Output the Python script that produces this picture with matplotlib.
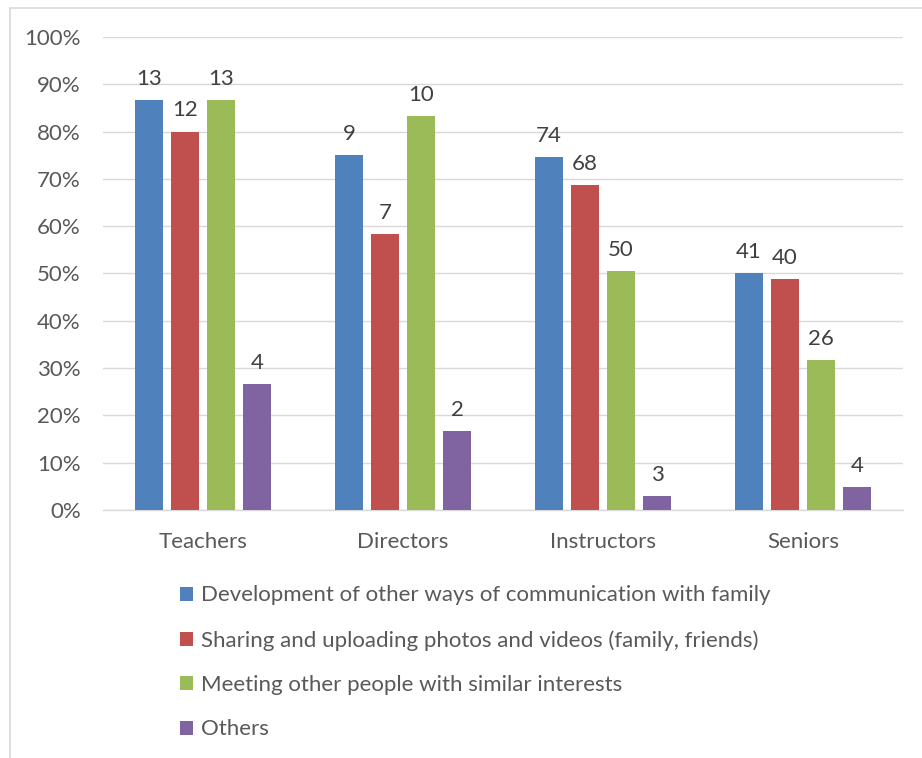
import matplotlib.pyplot as plt
import numpy as np
from matplotlib.patches import Rectangle

plt.rcParams['font.family'] = ['Lato', 'DejaVu Sans']

groups = ['Teachers', 'Directors', 'Instructors', 'Seniors']
series = ['Development of other ways of communication with family',
          'Sharing and uploading photos and videos (family, friends)',
          'Meeting other people with similar interests',
          'Others']
colors = ['#4f81bd', '#c0504d', '#9bbb59', '#8064a2']

# share of respondents (%) per group, one list per series
dev_pct = [86.7, 75.0, 74.7, 50.0]
share_pct = [80.0, 58.3, 68.7, 48.8]
meet_pct = [86.7, 83.3, 50.5, 31.7]
other_pct = [26.7, 16.7, 3.0, 4.9]

# counts shown as data labels
dev_n = [13, 9, 74, 41]
share_n = [12, 7, 68, 40]
meet_n = [13, 10, 50, 26]
other_n = [4, 2, 3, 4]

pcts = [dev_pct, share_pct, meet_pct, other_pct]
counts = [dev_n, share_n, meet_n, other_n]

fig = plt.figure(figsize=(9.22, 7.58), dpi=100, facecolor='white')
ax = fig.add_axes([0.1117, 0.3272, 0.8677, 0.624])

x = np.arange(len(groups))
bar_w = 0.14
step = 0.18
handles = []
for i in range(4):
    pos = x + (i - 1.5) * step
    b = ax.bar(pos, pcts[i], bar_w, color=colors[i], label=series[i], zorder=3)
    handles.append(b)
    for xp, v, n in zip(pos, pcts[i], counts[i]):
        ax.annotate(str(n), (xp, v), xytext=(0, 8), textcoords='offset points',
                    ha='center', va='bottom', fontsize=16, color='#404040')

ax.set_xlim(-0.5, 3.5)
ax.set_ylim(0, 100)
ax.set_yticks(range(0, 101, 10))
ax.set_yticklabels([f'{v}%' for v in range(0, 101, 10)])
ax.set_xticks(x)
ax.set_xticklabels(groups)
ax.tick_params(axis='both', length=0, labelsize=16, labelcolor='#595959')
ax.tick_params(axis='y', pad=16)
ax.tick_params(axis='x', pad=16)
ax.grid(axis='y', color='#d9d9d9', lw=1.0, zorder=0)
for s in ['top', 'right', 'left']:
    ax.spines[s].set_visible(False)
ax.spines['bottom'].set_color('#d9d9d9')
ax.spines['bottom'].set_linewidth(1.0)

leg = fig.legend(handles=handles, labels=series, loc='upper left',
                 bbox_to_anchor=(0.1735, 0.254), frameon=False, fontsize=16,
                 handlelength=0.6, handleheight=0.6, handletextpad=0.35,
                 labelspacing=1.1, labelcolor='#595959')

# chart area border
fig.patches.append(Rectangle((10 / 922, -0.05), 1.0, 1.05 - 8 / 758,
                             transform=fig.transFigure, fill=False,
                             edgecolor='#d9d9d9', lw=1.2))

fig.savefig('out.png', dpi=100, facecolor='white')
